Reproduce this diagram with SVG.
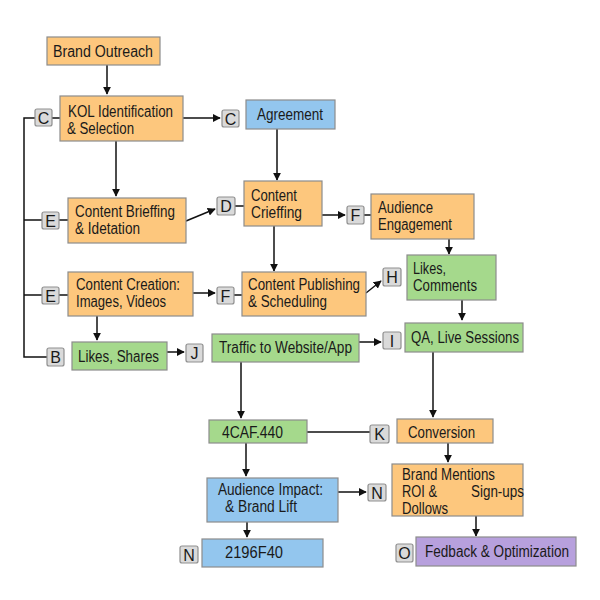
<svg xmlns="http://www.w3.org/2000/svg" width="600" height="600" viewBox="0 0 600 600">
<defs>
<marker id="ah" viewBox="0 0 10 10" refX="9" refY="5" markerWidth="8" markerHeight="8" markerUnits="userSpaceOnUse" orient="auto">
<path d="M0,0 L10,5 L0,10 z" fill="#111"/>
</marker>
<style>
.box{stroke:#8c8c8c;stroke-width:1.2}
.or{fill:#FDC77D}
.bl{fill:#93C6EE}
.gr{fill:#A5D98C}
.pu{fill:#B7A0DD}
.tag{fill:#DADADA;stroke:#8f8f8f;stroke-width:1.2}
text{font-family:"Liberation Sans",Arial,sans-serif;font-size:16px;fill:#1a1a1a}
.tt{text-anchor:middle;font-size:16px}
.c{fill:none;stroke:#111;stroke-width:1.5}
.a{marker-end:url(#ah)}
</style>
</defs>
<rect width="600" height="600" fill="#ffffff"/>
<g id="connectors">
<path class="c a" d="M107,65 V94"/>
<path class="c a" d="M183,118 H220"/>
<path class="c a" d="M277,129 V180"/>
<path class="c a" d="M116,141 V196"/>
<path class="c a" d="M186,221 L215,209"/>
<path class="c" d="M235,206 H244"/>
<path class="c a" d="M322,215 H345"/>
<path class="c" d="M364,215 H371"/>
<path class="c a" d="M449,239 V254"/>
<path class="c a" d="M274,226 V271"/>
<path class="c a" d="M193,293 H215"/>
<path class="c" d="M234,295 H242"/>
<path class="c a" d="M366,293 L381,281"/>
<path class="c a" d="M462,300 V320"/>
<path class="c a" d="M359,342 H381"/>
<path class="c a" d="M97,316 V340"/>
<path class="c" d="M35,118 H24 V357 H47"/>
<path class="c" d="M24,220 H42"/>
<path class="c" d="M24,295 H42"/>
<path class="c" d="M52,118 H60"/>
<path class="c" d="M59,220 H68"/>
<path class="c" d="M59,295 H68"/>
<path class="c a" d="M167,352 H184"/>
<path class="c a" d="M241,362 V418"/>
<path class="c a" d="M433,352 V417"/>
<path class="c" d="M307,432 H370"/>
<path class="c a" d="M448,443 V462"/>
<path class="c a" d="M246,443 V476"/>
<path class="c a" d="M338,492 H366"/>
<path class="c a" d="M247,522 V537"/>
<path class="c a" d="M476,516 V536"/>
</g>
<g id="brand-outreach"><rect class="box or" x="47" y="37" width="113" height="28"/><text x="53" y="56.5" textLength="100" lengthAdjust="spacingAndGlyphs">Brand Outreach</text></g>
<g id="kol"><rect class="box or" x="60" y="96" width="123" height="45"/><text x="68" y="117" textLength="105" lengthAdjust="spacingAndGlyphs">KOL Identification</text><text x="67" y="134" textLength="67" lengthAdjust="spacingAndGlyphs">&amp; Selection</text></g>
<g id="tag-c1"><rect class="tag" x="35" y="109" width="17" height="17" rx="2"/><text class="tt" x="43.5" y="123.5">C</text></g>
<g id="tag-c2"><rect class="tag" x="222" y="110" width="17" height="17" rx="2"/><text class="tt" x="230.5" y="124.5">C</text></g>
<g id="agreement"><rect class="box bl" x="246" y="100" width="89" height="29"/><text x="257" y="119.5" textLength="66" lengthAdjust="spacingAndGlyphs">Agreement</text></g>
<g id="content-briefing"><rect class="box or" x="68" y="198" width="118" height="45"/><text x="75" y="217" textLength="100" lengthAdjust="spacingAndGlyphs">Content Brieffing</text><text x="75" y="234" textLength="65" lengthAdjust="spacingAndGlyphs">&amp; Idetation</text></g>
<g id="tag-e1"><rect class="tag" x="42" y="212" width="17" height="17" rx="2"/><text class="tt" x="50.5" y="226.5">E</text></g>
<g id="tag-d"><rect class="tag" x="217" y="197" width="18" height="18" rx="2"/><text class="tt" x="226" y="212">D</text></g>
<g id="content-criefffing"><rect class="box or" x="244" y="181" width="78" height="45"/><text x="251" y="201" textLength="46" lengthAdjust="spacingAndGlyphs">Content</text><text x="251" y="218" textLength="51" lengthAdjust="spacingAndGlyphs">Crieffing</text></g>
<g id="tag-f1"><rect class="tag" x="347" y="206" width="17" height="18" rx="2"/><text class="tt" x="355.5" y="221">F</text></g>
<g id="audience-engagement"><rect class="box or" x="371" y="194" width="103" height="45"/><text x="378" y="213" textLength="55" lengthAdjust="spacingAndGlyphs">Audience</text><text x="378" y="230" textLength="74" lengthAdjust="spacingAndGlyphs">Engagement</text></g>
<g id="content-creation"><rect class="box or" x="68" y="272" width="125" height="44"/><text x="76" y="290" textLength="104" lengthAdjust="spacingAndGlyphs">Content Creation:</text><text x="76" y="307" textLength="90" lengthAdjust="spacingAndGlyphs">Images, Videos</text></g>
<g id="tag-e2"><rect class="tag" x="42" y="287" width="17" height="17" rx="2"/><text class="tt" x="50.5" y="301.5">E</text></g>
<g id="tag-f2"><rect class="tag" x="217" y="287" width="17" height="17" rx="2"/><text class="tt" x="225.5" y="301.5">F</text></g>
<g id="content-publishing"><rect class="box or" x="242" y="272" width="124" height="44"/><text x="248" y="290" textLength="112" lengthAdjust="spacingAndGlyphs">Content Publishing</text><text x="248" y="307" textLength="79" lengthAdjust="spacingAndGlyphs">&amp; Scheduling</text></g>
<g id="tag-h"><rect class="tag" x="383" y="268" width="18" height="18" rx="2"/><text class="tt" x="392" y="283">H</text></g>
<g id="likes-comments"><rect class="box gr" x="407" y="255" width="89" height="45"/><text x="413" y="274" textLength="33" lengthAdjust="spacingAndGlyphs">Likes,</text><text x="413" y="291" textLength="64" lengthAdjust="spacingAndGlyphs">Comments</text></g>
<g id="tag-b"><rect class="tag" x="47" y="348" width="17" height="18" rx="2"/><text class="tt" x="55.5" y="363">B</text></g>
<g id="likes-shares"><rect class="box gr" x="72" y="342" width="95" height="28"/><text x="78" y="361.5" textLength="81" lengthAdjust="spacingAndGlyphs">Likes, Shares</text></g>
<g id="tag-j"><rect class="tag" x="186" y="344" width="17" height="18" rx="2"/><text class="tt" x="194.5" y="359">J</text></g>
<g id="traffic"><rect class="box gr" x="212" y="334" width="147" height="28"/><text x="219" y="353" textLength="133" lengthAdjust="spacingAndGlyphs">Traffic to Website/App</text></g>
<g id="tag-i"><rect class="tag" x="383" y="332" width="18" height="17" rx="2"/><text class="tt" x="392" y="346.5">I</text></g>
<g id="qa-live"><rect class="box gr" x="405" y="323" width="118" height="29"/><text x="411" y="343" textLength="108" lengthAdjust="spacingAndGlyphs">QA, Live Sessions</text></g>
<g id="node-4caf"><rect class="box gr" x="209" y="420" width="98" height="23"/><text x="222" y="437.5" textLength="61" lengthAdjust="spacingAndGlyphs">4CAF.440</text></g>
<g id="tag-k"><rect class="tag" x="370" y="425" width="19" height="18" rx="2"/><text class="tt" x="379.5" y="440">K</text></g>
<g id="conversion"><rect class="box or" x="397" y="419" width="96" height="24"/><text x="408" y="437.5" textLength="67" lengthAdjust="spacingAndGlyphs">Conversion</text></g>
<g id="brand-mentions"><rect class="box or" x="392" y="464" width="131" height="52"/><text x="402" y="480" textLength="93" lengthAdjust="spacingAndGlyphs">Brand Mentions</text><text x="402" y="497" textLength="35" lengthAdjust="spacingAndGlyphs">ROI &amp;</text><text x="471" y="497" textLength="53" lengthAdjust="spacingAndGlyphs">Sign-ups</text><text x="402" y="514" textLength="46" lengthAdjust="spacingAndGlyphs">Dollows</text></g>
<g id="audience-impact"><rect class="box bl" x="207" y="478" width="131" height="44"/><text x="218" y="495" textLength="105" lengthAdjust="spacingAndGlyphs">Audience Impact:</text><text x="225" y="512" textLength="72" lengthAdjust="spacingAndGlyphs">&amp; Brand Lift</text></g>
<g id="tag-n1"><rect class="tag" x="368" y="484" width="18" height="17" rx="2"/><text class="tt" x="377" y="498.5">N</text></g>
<g id="node-2196"><rect class="box bl" x="202" y="539" width="121" height="28"/><text x="225" y="557.5" textLength="58" lengthAdjust="spacingAndGlyphs">2196F40</text></g>
<g id="tag-n2"><rect class="tag" x="180" y="546" width="18" height="17" rx="2"/><text class="tt" x="189" y="560.5">N</text></g>
<g id="tag-o"><rect class="tag" x="396" y="544" width="17" height="18" rx="2"/><text class="tt" x="404.5" y="559">O</text></g>
<g id="feedback"><rect class="box pu" x="416" y="537" width="160" height="29"/><text x="425" y="557" textLength="144" lengthAdjust="spacingAndGlyphs">Fedback &amp; Optimization</text></g>
</svg>
